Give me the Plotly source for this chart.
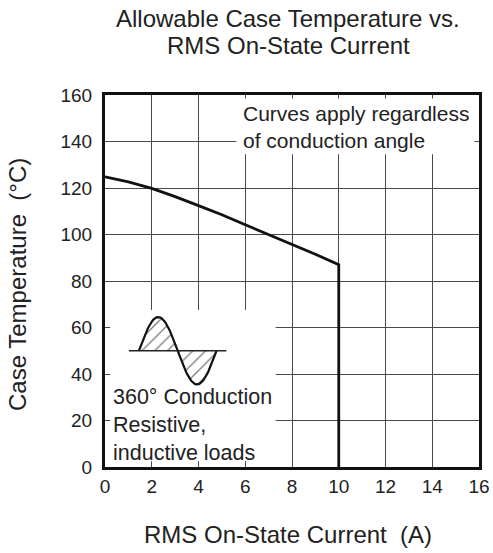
import numpy as np
import plotly.graph_objects as go

# Data
current_a = [0, 1, 2, 3, 4, 5, 6, 7, 8, 9, 10, 10]
case_temp_c = [124.8, 122.6, 119.8, 116.3, 112.4, 108.5, 104.2, 100.0, 95.8, 91.5, 87.0, 0]
x_ticks = [0, 2, 4, 6, 8, 10, 12, 14, 16]
y_ticks = [0, 20, 40, 60, 80, 100, 120, 140, 160]

FONT = "Liberation Sans, Arial, sans-serif"
TXT = "#222"

fig = go.Figure()

# waveform icon (decorative glyph)
t = np.linspace(0, 2 * np.pi, 80)
icon_x = 1.45 + (4.77 - 1.45) * t / (2 * np.pi)
icon_y = 50 + 14.5 * np.sin(t)
fig.add_trace(go.Scatter(
    x=icon_x, y=icon_y, mode="lines", fill="toself",
    fillpattern=dict(shape="/", fgcolor="#000", bgcolor="white", size=9, solidity=0.15),
    line=dict(color="#111", width=2.2), hoverinfo="skip", showlegend=False))
fig.add_trace(go.Scatter(
    x=[1.02, 5.19], y=[50, 50], mode="lines",
    line=dict(color="#222", width=1.3), hoverinfo="skip", showlegend=False))

# main curve
fig.add_trace(go.Scatter(
    x=current_a, y=case_temp_c, mode="lines",
    line=dict(color="#111", width=2.8), showlegend=False))

# white boxes masking the grid behind the notes
fig.add_shape(type="rect", xref="x", yref="y", x0=0.22, x1=7.3, y0=2.5, y1=67.5,
              fillcolor="white", line=dict(width=0), layer="between")
fig.add_shape(type="rect", xref="x", yref="y", x0=5.62, x1=15.8, y0=134.5, y1=158.5,
              fillcolor="white", line=dict(width=0), layer="between")

fig.add_annotation(x=5.8, y=146.3, xref="x", yref="y", xanchor="left", yanchor="middle",
                   align="left", showarrow=False,
                   text="Curves apply regardless<br>of conduction angle",
                   font=dict(family=FONT, size=21, color=TXT))
fig.add_annotation(x=0.25, y=18.0, xref="x", yref="y", xanchor="left", yanchor="middle",
                   align="left", showarrow=False,
                   text="360° Conduction<br>Resistive,<br>inductive loads",
                   font=dict(family=FONT, size=21.5, color=TXT))

# title lines
fig.add_annotation(x=0.4906, y=1.205, xref="paper", yref="paper", xanchor="center",
                   yanchor="middle", showarrow=False, text="Allowable Case Temperature vs.",
                   font=dict(family=FONT, size=24, color=TXT))
fig.add_annotation(x=0.4906, y=1.1327, xref="paper", yref="paper", xanchor="center",
                   yanchor="middle", showarrow=False, text="RMS On-State Current",
                   font=dict(family=FONT, size=24, color=TXT))
# axis titles
fig.add_annotation(x=0.4906, y=-0.1823, xref="paper", yref="paper", xanchor="center",
                   yanchor="middle", showarrow=False, text="RMS On-State Current  (A)",
                   font=dict(family=FONT, size=24, color=TXT))
fig.add_annotation(x=-0.2326, y=0.4893, xref="paper", yref="paper", xanchor="center",
                   yanchor="middle", showarrow=False, text="Case Temperature  (°C)",
                   textangle=-90, font=dict(family=FONT, size=24, color=TXT))

fig.update_layout(
    width=493, height=553,
    margin=dict(l=105, r=14, t=94.5, b=85.5, autoexpand=False),
    paper_bgcolor="white", plot_bgcolor="white",
    font=dict(family=FONT, color=TXT),
)
fig.update_xaxes(
    range=[0, 16], tickvals=x_ticks, ticktext=[str(v) for v in x_ticks],
    showgrid=True, gridcolor="#4a4a4a", gridwidth=1.4,
    showline=True, linecolor="#111", linewidth=3, mirror=True,
    ticks="", ticklabelstandoff=0, zeroline=False, automargin=False,
    ticklabeloverflow="allow",
    tickfont=dict(family=FONT, size=19, color=TXT))
fig.update_yaxes(
    range=[0, 160], tickvals=y_ticks, ticktext=[str(v) for v in y_ticks],
    showgrid=True, gridcolor="#4a4a4a", gridwidth=1.4,
    showline=True, linecolor="#111", linewidth=3, mirror=True,
    ticks="", ticklabelstandoff=6, zeroline=False, automargin=False,
    ticklabeloverflow="allow",
    tickfont=dict(family=FONT, size=19, color=TXT))

# remove the default page margin so the 493x553 figure fills the window exactly
fig.write_html(
    "out.html",
    config={"displayModeBar": False},
    post_script="document.body.style.margin='0';"
                "document.documentElement.style.overflow='hidden';"
                "document.body.style.overflow='hidden';",
)
